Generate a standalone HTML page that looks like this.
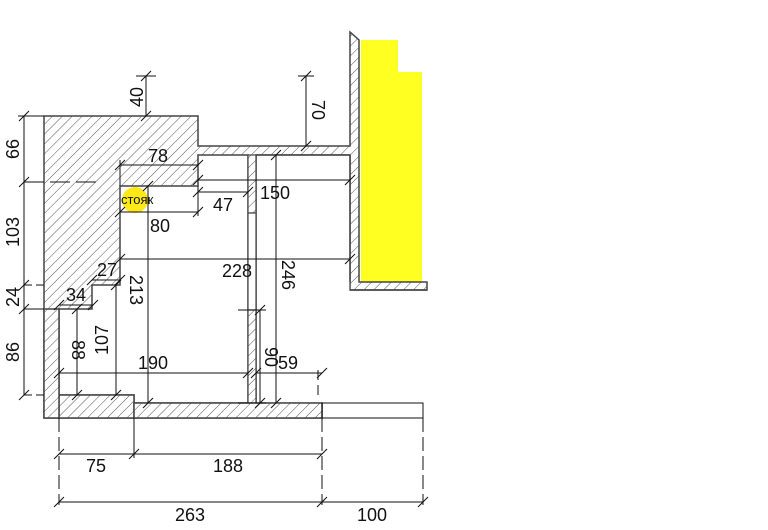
<!DOCTYPE html>
<html><head><meta charset="utf-8"><style>
html,body{margin:0;padding:0;background:#fff}
svg{display:block}
text{font-family:"Liberation Sans",sans-serif;font-size:18px;fill:#111}
</style></head><body>
<svg width="768" height="530" viewBox="0 0 768 530" xmlns="http://www.w3.org/2000/svg">
<defs>
<pattern id="h" patternUnits="userSpaceOnUse" width="7" height="7" patternTransform="rotate(45)">
<rect width="7" height="7" fill="#fff"/>
<line x1="0" y1="0" x2="0" y2="7" stroke="#555" stroke-width="1"/>
</pattern>
</defs>
<rect x="361" y="40" width="37" height="242" fill="#ffff22"/>
<rect x="398" y="72" width="24" height="210" fill="#ffff22"/>
<g stroke="#444" stroke-width="1.5" fill="url(#h)">
<polygon points="44,116 198,116 198,146 350,146 350,32 359,40 359,282 427,282 427,290 350,290 350,155 256,155 256,403 322,403 322,418 59,418 44,418 44,285 44,116"/>
</g>
<polygon points="120,186 198,186 198,155 248,155 248,403 134,403 134,395 59,395 59,309 92,309 92,285 120,285" fill="#fff" stroke="#444" stroke-width="1.5"/>
<rect x="256.75" y="155.75" width="92.5" height="246.5" fill="#fff"/>
<line x1="256" y1="155" x2="350" y2="155" stroke="#444" stroke-width="1.5"/>
<line x1="350" y1="155" x2="350" y2="282" stroke="#444" stroke-width="1.5"/>
<line x1="256" y1="155" x2="256" y2="403" stroke="#444" stroke-width="1.5"/>
<line x1="350" y1="290" x2="427" y2="290" stroke="#444" stroke-width="1.5"/>
<circle cx="135" cy="200" r="13" fill="#ffe818"/>
<rect x="248" y="155" width="8" height="58" fill="url(#h)" stroke="#444" stroke-width="1.2"/>
<rect x="248" y="213" width="8" height="97" fill="#fff" stroke="#444" stroke-width="1.2"/>
<rect x="248" y="310" width="8" height="93" fill="url(#h)" stroke="#444" stroke-width="1.2"/>
<rect x="59" y="395" width="75" height="23" fill="url(#h)" stroke="#444" stroke-width="1.5"/>
<rect x="134" y="403" width="188" height="15" fill="url(#h)" stroke="#444" stroke-width="1.5"/>
<rect x="44" y="309" width="15" height="109" fill="url(#h)" stroke="#444" stroke-width="1.5"/>
<rect x="322" y="403" width="101" height="15" fill="none" stroke="#111" stroke-width="1"/>
<g stroke="#111" stroke-width="1" fill="none">
<line x1="146" y1="76" x2="146" y2="116"/><line x1="136" y1="76" x2="156" y2="76"/>
<line x1="306" y1="76" x2="306" y2="146"/><line x1="298" y1="76" x2="314" y2="76"/>
<line x1="24" y1="116" x2="24" y2="395"/>
<line x1="18" y1="116" x2="44" y2="116"/>
<line x1="24" y1="182" x2="100" y2="182" stroke-dasharray="20,6"/>
<line x1="24" y1="285" x2="44" y2="285" stroke-dasharray="8,4"/>
<line x1="24" y1="309" x2="44" y2="309"/>
<line x1="24" y1="395" x2="44" y2="395" stroke-dasharray="8,4"/>
<line x1="120" y1="165" x2="198" y2="165"/><line x1="120" y1="160" x2="120" y2="186"/>
<line x1="198" y1="180" x2="350" y2="180"/>
<line x1="198" y1="192" x2="248" y2="192"/>
<line x1="120" y1="212" x2="198" y2="212"/><line x1="198" y1="186" x2="198" y2="216"/>
<line x1="120" y1="259" x2="350" y2="259"/>
<line x1="276" y1="155" x2="276" y2="403"/>
<line x1="148" y1="186" x2="148" y2="403"/>
<line x1="92" y1="280" x2="120" y2="280"/>
<line x1="59" y1="305" x2="93" y2="305"/>
<line x1="116" y1="285" x2="116" y2="395"/>
<line x1="77" y1="309" x2="77" y2="395"/>
<line x1="59" y1="373" x2="248" y2="373"/>
<line x1="260" y1="310" x2="260" y2="403"/>
<line x1="238" y1="310" x2="266" y2="310"/>
<line x1="238" y1="403" x2="266" y2="403"/>
<line x1="256" y1="373" x2="322" y2="373"/>
<line x1="318" y1="370" x2="318" y2="395" stroke-dasharray="10,5"/>
<line x1="59" y1="454" x2="322" y2="454"/>
<line x1="59" y1="502" x2="423" y2="502"/>
<line x1="59" y1="418" x2="59" y2="505" stroke-dasharray="14,5"/>
<line x1="134" y1="418" x2="134" y2="458"/>
<line x1="322" y1="418" x2="322" y2="505" stroke-dasharray="14,5"/>
<line x1="423" y1="418" x2="423" y2="505" stroke-dasharray="14,5"/>
</g>
<g stroke="#111" stroke-width="1">
<path d="M141,81l10,-10M141,121l10,-10M301,81l10,-10M301,151l10,-10M19,121l10,-10M19,187l10,-10M19,290l10,-10M19,314l10,-10M19,400l10,-10M115,170l10,-10M193,170l10,-10M193,185l10,-10M345,185l10,-10M193,197l10,-10M243,197l10,-10M115,217l10,-10M193,217l10,-10M115,264l10,-10M345,264l10,-10M271,160l10,-10M271,408l10,-10M143,191l10,-10M143,408l10,-10M87,285l10,-10M115,285l10,-10M54,310l10,-10M88,310l10,-10M111,290l10,-10M111,400l10,-10M72,314l10,-10M72,400l10,-10M54,378l10,-10M243,378l10,-10M255,315l10,-10M255,408l10,-10M251,378l10,-10M317,378l10,-10M54,459l10,-10M129,459l10,-10M317,459l10,-10M54,507l10,-10M317,507l10,-10M418,507l10,-10"/>
</g>
<text x="143" y="97" transform="rotate(-90 143 97)" text-anchor="middle">40</text>
<text x="312" y="110" transform="rotate(90 312 110)" text-anchor="middle">70</text>
<text x="19" y="149" transform="rotate(-90 19 149)" text-anchor="middle">66</text>
<text x="19" y="232" transform="rotate(-90 19 232)" text-anchor="middle">103</text>
<text x="19" y="297" transform="rotate(-90 19 297)" text-anchor="middle">24</text>
<text x="19" y="352" transform="rotate(-90 19 352)" text-anchor="middle">86</text>
<text x="158" y="162" text-anchor="middle">78</text>
<text x="275" y="199" text-anchor="middle">150</text>
<text x="223" y="211" text-anchor="middle">47</text>
<text x="160" y="232" text-anchor="middle">80</text>
<text x="237" y="277" text-anchor="middle">228</text>
<text x="282" y="275" transform="rotate(90 282 275)" text-anchor="middle">246</text>
<text x="130" y="290" transform="rotate(90 130 290)" text-anchor="middle">213</text>
<text x="107" y="276" text-anchor="middle">27</text>
<text x="76" y="301" text-anchor="middle">34</text>
<text x="108" y="340" transform="rotate(-90 108 340)" text-anchor="middle">107</text>
<text x="72" y="350" transform="rotate(90 72 350)" text-anchor="middle">88</text>
<text x="153" y="369" text-anchor="middle">190</text>
<text x="265" y="357" transform="rotate(90 265 357)" text-anchor="middle">90</text>
<text x="288" y="369" text-anchor="middle">59</text>
<text x="96" y="472" text-anchor="middle">75</text>
<text x="228" y="472" text-anchor="middle">188</text>
<text x="190" y="521" text-anchor="middle">263</text>
<text x="372" y="521" text-anchor="middle">100</text>
<text x="121" y="204" style="font-size:13px">стояк</text>
</svg>
</body></html>
